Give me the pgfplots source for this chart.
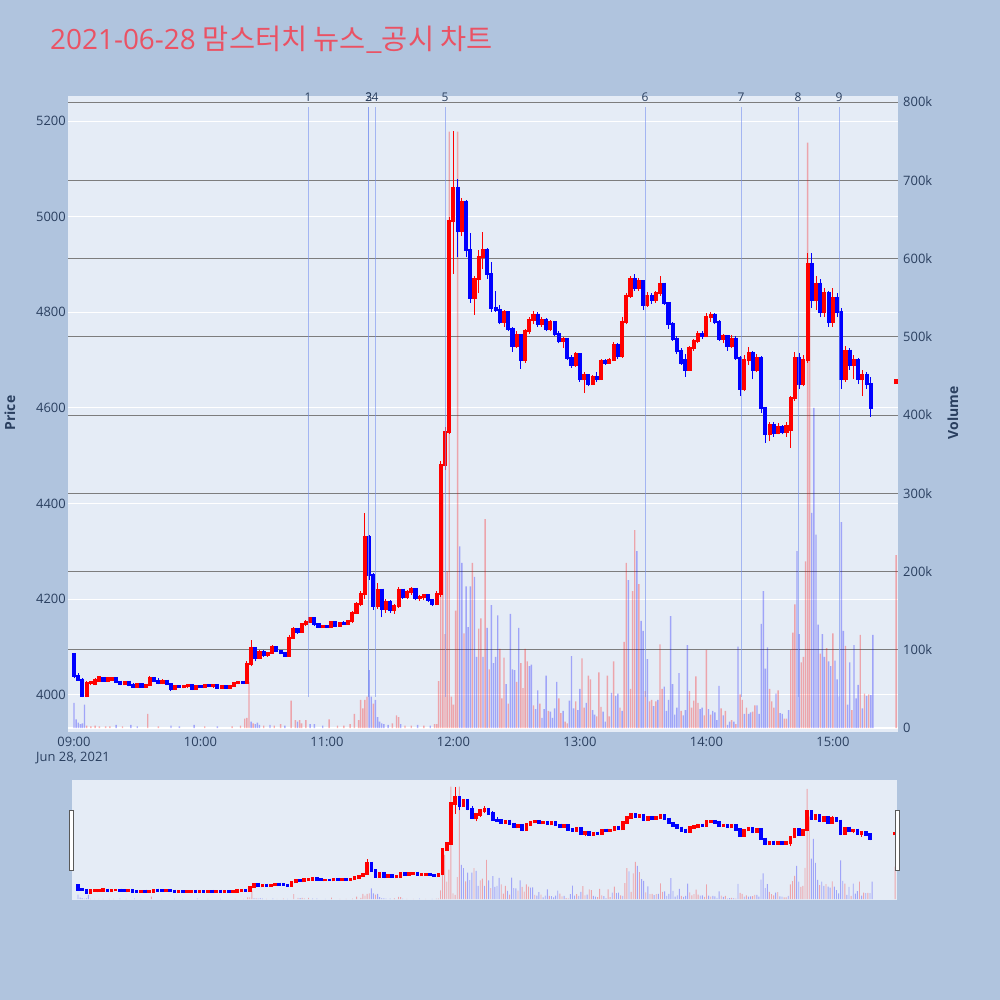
\documentclass[border=0pt]{standalone}
\usepackage{pgfplots}
\pgfplotsset{compat=1.18}
\usepackage{pgfplotstable}
\usepackage{fontspec}
\setmainfont{Open Sans}
\newfontfamily\cjk{Noto Sans CJK KR}
\definecolor{pagebg}{RGB}{176,196,222}
\definecolor{plotbg}{RGB}{229,236,246}
\definecolor{tickc}{RGB}{42,63,95}
\definecolor{titlec}{RGB}{234,82,100}
\definecolor{vgrid}{RGB}{125,125,125}
\definecolor{newsc}{RGB}{120,145,240}

\pgfplotstableread{
t o h l c
0 4085 4088 4035 4040
2 4040 4045 4030 4032
4 4032 4035 3995 3998
6 3998 4030 3995 4025
8 4025 4030 4020 4028
10 4022 4035 4020 4032
12 4030 4040 4028 4038
14 4035 4038 4028 4030
16 4030 4036 4028 4035
18 4032 4038 4030 4035
20 4035 4036 4025 4028
22 4028 4030 4020 4022
24 4022 4030 4020 4028
26 4028 4030 4018 4020
28 4020 4025 4015 4017
30 4017 4025 4015 4022
32 4022 4024 4015 4017
34 4017 4022 4015 4020
36 4020 4040 4018 4035
38 4035 4038 4028 4030
40 4030 4035 4022 4025
42 4025 4033 4022 4030
44 4030 4032 4020 4022
46 4022 4024 4008 4012
48 4012 4020 4010 4018
50 4018 4020 4015 4016
52 4016 4020 4014 4018
54 4018 4022 4015 4020
56 4020 4021 4010 4012
58 4012 4020 4010 4018
60 4018 4020 4015 4016
62 4016 4021 4015 4020
64 4020 4022 4016 4018
66 4018 4021 4015 4020
68 4020 4021 4014 4015
70 4015 4020 4014 4018
72 4018 4020 4014 4015
74 4015 4020 4012 4018
76 4018 4028 4017 4025
78 4025 4030 4022 4028
80 4028 4030 4024 4026
82 4026 4070 4024 4065
84 4065 4115 4060 4098
86 4098 4100 4070 4078
88 4078 4095 4075 4090
90 4090 4094 4080 4084
92 4084 4090 4080 4088
94 4088 4104 4086 4100
96 4100 4102 4090 4092
98 4092 4094 4085 4088
100 4088 4090 4080 4082
102 4082 4125 4080 4120
104 4120 4142 4118 4138
106 4138 4140 4128 4132
108 4132 4150 4130 4148
110 4148 4156 4145 4152
112 4152 4162 4150 4160
114 4160 4161 4145 4148
116 4148 4150 4140 4142
118 4142 4146 4140 4144
120 4144 4146 4140 4142
122 4142 4155 4140 4152
124 4152 4153 4142 4145
126 4145 4152 4143 4150
128 4150 4155 4146 4148
130 4148 4156 4146 4154
132 4154 4175 4150 4172
134 4172 4195 4170 4190
136 4190 4218 4185 4212
138 4212 4380 4200 4330
140 4330 4335 4240 4250
142 4250 4255 4178 4185
144 4185 4235 4180 4220
146 4220 4222 4162 4180
148 4180 4200 4172 4195
150 4195 4198 4172 4178
152 4178 4190 4170 4185
154 4185 4226 4182 4220
156 4220 4222 4200 4205
158 4205 4220 4200 4215
160 4215 4226 4210 4222
162 4222 4223 4198 4202
164 4202 4210 4196 4205
166 4205 4210 4198 4208
168 4208 4209 4195 4198
170 4198 4200 4186 4190
172 4190 4218 4188 4212
174 4212 4490 4205 4480
176 4480 4560 4470 4550
178 4550 5000 4545 4990
180 4990 5180 4880 5060
182 5060 5078 4915 4970
184 4970 5040 4960 5030
186 5030 5035 4915 4930
188 4930 4965 4820 4830
190 4830 4875 4795 4870
192 4870 4930 4840 4915
194 4915 4968 4890 4930
196 4930 4935 4870 4880
198 4880 4905 4800 4810
200 4810 4845 4800 4805
202 4805 4815 4775 4780
204 4780 4805 4770 4800
206 4800 4802 4760 4765
208 4765 4770 4718 4730
210 4730 4760 4725 4752
212 4752 4755 4682 4700
214 4700 4765 4695 4760
216 4760 4790 4755 4785
218 4785 4803 4775 4795
220 4795 4800 4770 4775
222 4775 4790 4770 4785
224 4785 4788 4760 4765
226 4765 4785 4760 4780
228 4780 4782 4750 4755
230 4755 4760 4735 4740
232 4740 4748 4725 4745
234 4745 4746 4700 4705
236 4705 4710 4684 4690
238 4690 4718 4686 4712
240 4712 4715 4655 4660
242 4660 4675 4631 4668
244 4668 4672 4645 4650
246 4650 4670 4648 4665
248 4665 4675 4655 4660
250 4660 4702 4658 4698
252 4698 4702 4690 4695
254 4695 4705 4692 4700
256 4700 4738 4698 4732
258 4732 4735 4703 4708
260 4708 4790 4705 4780
262 4780 4840 4775 4835
264 4835 4875 4830 4870
266 4870 4880 4845 4850
268 4850 4872 4845 4865
270 4865 4868 4805 4815
272 4815 4842 4812 4835
274 4835 4840 4818 4825
276 4825 4845 4820 4840
278 4840 4875 4835 4860
280 4860 4862 4815 4820
282 4820 4822 4765 4775
284 4775 4780 4740 4745
286 4745 4750 4712 4720
288 4720 4725 4690 4695
290 4700 4712 4665 4680
292 4680 4730 4678 4725
294 4725 4745 4720 4740
296 4740 4762 4735 4755
298 4755 4760 4745 4750
300 4750 4798 4748 4790
302 4790 4800 4780 4795
304 4795 4798 4775 4780
306 4780 4785 4740 4745
308 4745 4755 4735 4750
310 4750 4752 4720 4730
312 4730 4752 4725 4745
314 4745 4750 4700 4705
316 4705 4708 4625 4640
318 4640 4710 4635 4700
320 4700 4728 4690 4715
322 4715 4720 4660 4680
324 4680 4712 4675 4705
326 4705 4708 4590 4600
328 4600 4602 4527 4545
330 4545 4570 4530 4565
332 4565 4570 4540 4548
334 4548 4568 4545 4560
336 4560 4565 4545 4550
338 4550 4570 4540 4562
340 4555 4625 4516 4620
342 4620 4718 4615 4705
344 4705 4715 4640 4650
346 4650 4710 4645 4700
348 4700 4925 4695 4900
350 4900 4925 4810 4825
352 4825 4875 4805 4860
354 4860 4870 4790 4800
356 4800 4850 4790 4840
358 4840 4845 4770 4780
360 4780 4850 4770 4830
362 4830 4840 4790 4800
364 4800 4810 4640 4660
366 4660 4730 4655 4720
368 4720 4725 4680 4690
370 4690 4710 4660 4700
372 4700 4705 4650 4660
374 4660 4680 4625 4670
376 4670 4675 4640 4650
378 4650 4665 4582 4600
390 4652 4658 4652 4658
}\candles

\pgfplotstableread{
t v d
0 32 0
1 11 0
2 7 0
3 5 0
4 6 0
5 30 0
6 3 1
8 2 1
10 3 1
12 2 1
15 2 1
17 2 1
20 4 0
23 2 1
27 4 0
30 2 0
35 18 1
40 2 1
46 3 0
50 2 0
57 4 0
62 2 1
68 2 0
75 2 1
79 3 1
81 12 1
82 13 1
83 59 1
84 8 0
85 6 1
86 5 0
87 7 0
88 4 0
90 3 1
93 4 0
95 3 1
98 5 1
100 3 0
103 35 1
105 10 1
106 8 0
107 10 1
108 6 1
110 10 1
112 5 0
114 5 0
118 3 0
121 11 1
125 3 1
128 3 1
131 5 1
133 18 1
135 10 1
136 36 1
137 25 1
138 36 1
139 40 1
140 74 0
141 40 0
142 31 1
143 36 0
144 14 0
145 8 0
146 6 0
147 5 0
149 4 0
151 6 1
153 16 1
154 14 1
155 5 0
157 3 1
160 3 1
163 4 0
166 3 1
169 3 0
171 5 1
172 5 1
173 60 1
174 330 1
175 300 1
176 120 1
177 200 1
178 762 1
179 40 1
180 30 1
181 150 1
182 762 1
183 232 0
184 211 0
185 121 1
186 181 0
187 129 0
188 181 0
189 211 1
190 193 0
191 91 0
192 127 1
193 140 1
194 91 0
195 267 1
196 128 0
197 75 1
198 157 0
199 83 0
200 91 0
201 144 0
202 101 1
203 38 1
204 90 1
205 56 0
206 31 1
207 146 0
208 75 0
209 74 0
210 59 1
211 128 0
212 83 1
213 51 1
214 101 1
215 85 1
216 79 0
217 81 0
218 29 1
219 24 0
220 48 0
221 31 1
222 13 0
223 24 0
224 67 0
225 22 1
226 21 0
227 13 0
228 25 0
229 59 0
230 38 1
231 19 1
232 22 0
233 8 1
234 6 1
235 35 0
236 92 0
237 25 0
238 34 1
239 23 0
240 50 0
241 89 1
242 26 1
243 32 0
244 67 1
245 62 1
246 23 0
247 17 0
248 15 1
249 71 1
250 27 1
251 21 0
252 8 0
253 67 1
254 15 1
255 45 0
256 85 1
257 41 0
258 44 0
259 26 1
260 22 0
261 110 1
262 211 1
263 189 0
264 50 1
265 175 1
266 253 1
267 226 0
268 184 1
269 137 0
270 124 0
271 47 1
272 88 0
273 34 1
274 36 1
275 28 0
276 34 1
277 36 0
278 107 1
279 50 1
280 53 0
281 22 0
282 36 0
283 143 0
284 56 0
285 17 0
286 26 0
287 70 0
288 22 1
289 16 0
290 23 0
291 106 0
292 47 1
293 26 1
294 35 1
295 66 1
296 32 1
297 24 0
298 26 0
299 16 1
300 100 1
301 24 0
302 17 1
303 22 0
304 20 0
305 10 0
306 54 0
307 25 1
308 16 0
309 22 1
310 4 0
311 8 0
312 10 1
313 8 0
314 5 1
315 104 0
316 43 1
317 36 1
318 18 0
319 26 1
320 18 0
321 20 0
322 21 1
323 29 1
324 29 0
325 18 0
326 133 0
327 175 0
328 76 0
329 103 0
330 50 1
331 34 1
332 26 1
333 44 0
334 48 1
335 19 0
336 18 0
337 12 1
338 12 1
339 23 0
340 100 1
341 122 1
342 158 1
343 226 0
344 120 0
345 84 1
346 91 1
347 213 1
348 748 1
349 560 1
350 275 0
351 409 0
352 247 0
353 132 0
354 95 1
355 120 0
356 91 0
357 102 1
358 85 0
359 79 0
360 121 1
361 86 0
362 62 0
363 40 0
364 263 0
365 124 0
366 105 1
367 30 0
368 84 0
369 23 1
370 106 0
371 38 0
372 55 0
373 119 1
374 25 0
375 44 1
376 41 0
377 43 1
378 42 0
379 119 0
390 221 1
}\vols

\tikzset{tfont/.style={font=\fontsize{13}{15}\selectfont, text=tickc}}
\pgfplotsset{
  base/.style={scale only axis, xmin=-2.85, xmax=390.9,
    axis line style={draw=none}, tick style={draw=none}},
  mainpos/.style={at={(68bp,268bp)}, anchor=south west, width=830bp, height=636bp},
  slidepos/.style={at={(72bp,100bp)}, anchor=south west, width=825bp, height=120bp},
  upc/.style={restrict expr to domain={\thisrow{c}-\thisrow{o}}{0:5000}},
  dnc/.style={restrict expr to domain={\thisrow{c}-\thisrow{o}}{-5000:-0.001}},
  upv/.style={restrict expr to domain={\thisrow{d}}{0.5:1.5}},
  dnv/.style={restrict expr to domain={\thisrow{d}}{-0.5:0.5}},
}

\begin{document}
\begin{tikzpicture}
\useasboundingbox (0,0) rectangle (1000bp,1000bp);
\fill[pagebg] (0,0) rectangle (1000bp,1000bp);

% ---------- main price axis: background, white grid, labels
\begin{axis}[base, mainpos, ymin=3922.6, ymax=5252.3,
  axis background/.style={fill=plotbg},
  ytick={4000,4200,4400,4600,4800,5000,5200},
  yticklabels={4000,4200,4400,4600,4800,5000,5200},
  ymajorgrids, grid style={white, line width=1bp},
  xtick={0,60,120,180,240,300,360},
  xticklabels={09:00,10:00,11:00,12:00,13:00,14:00,15:00},
  ticklabel style={tfont},
  yticklabel style={anchor=east, inner sep=0pt, xshift=-2bp},
  xticklabel style={anchor=north, inner sep=0pt, yshift=-5bp},
]
\addplot[draw=none] coordinates {(0,4000)};
\end{axis}

% ---------- volume axis
\begin{axis}[base, mainpos, ymin=-5.1, ymax=807.7,
  xtick=\empty,
  ytick={100,200,300,400,500,600,700,800},
  yticklabels={100k,200k,300k,400k,500k,600k,700k,800k},
  extra y ticks={0}, extra y tick labels={0},
  extra y tick style={grid style={white, line width=1.6bp}},
  yticklabel pos=right,
  ymajorgrids, grid style={vgrid, line width=0.8bp},
  ticklabel style={tfont},
  yticklabel style={anchor=west, inner sep=0pt, xshift=5bp},
]
\addplot[ybar, bar width=1.4bp, bar shift=0pt, draw=none, fill=red, fill opacity=0.3, upv] table[x=t, y=v]{\vols};
\addplot[ybar, bar width=1.4bp, bar shift=0pt, draw=none, fill=blue, fill opacity=0.3, dnv] table[x=t, y=v]{\vols};
\end{axis}

% ---------- candles + news lines
\begin{axis}[base, mainpos, ymin=3922.6, ymax=5252.3, xtick=\empty, ytick=\empty, clip mode=individual]
\addplot[red, line width=1bp, quiver={u=0, v={\thisrow{h}-\thisrow{l}}}, upc] table[x=t, y=l]{\candles};
\addplot[red, line width=4.1bp, shorten <=-1bp, shorten >=-1bp, quiver={u=0, v={\thisrow{c}-\thisrow{o}}}, upc] table[x=t, y=o]{\candles};
\addplot[blue, line width=1bp, quiver={u=0, v={\thisrow{h}-\thisrow{l}}}, dnc] table[x=t, y=l]{\candles};
\addplot[blue, line width=4.1bp, shorten <=-1bp, shorten >=-1bp, quiver={u=0, v={\thisrow{c}-\thisrow{o}}}, dnc] table[x=t, y=o]{\candles};
\foreach \tt in {111.0,139.9,139.9,142.8,176.0,270.9,316.4,343.5,362.9}{
  \edef\temp{\noexpand\addplot[newsc, opacity=0.6, line width=0.9bp] coordinates {(\tt,3996) (\tt,5229)};}
  \temp
}
\foreach \tt/\lab in {111.0/1,139.9/2,139.9/3,142.8/4,176.0/5,270.9/6,316.4/7,343.5/8,362.9/9}{
  \edef\temp{\noexpand\node[anchor=south, inner sep=0pt, font=\noexpand\fontsize{12}{14}\noexpand\selectfont, text=tickc] at (axis cs:\tt,5229) [yshift=5bp] {\lab};}
  \temp
}
\end{axis}

% ---------- range slider
\begin{axis}[base, slidepos, ymin=-5.1, ymax=807.7, xtick=\empty, ytick=\empty,
  axis background/.style={fill=plotbg}]
\addplot[ybar, bar width=0.9bp, bar shift=0pt, draw=none, fill=red, fill opacity=0.3, upv] table[x=t, y=v]{\vols};
\addplot[ybar, bar width=0.9bp, bar shift=0pt, draw=none, fill=blue, fill opacity=0.3, dnv] table[x=t, y=v]{\vols};
\end{axis}
\begin{axis}[base, slidepos, ymin=3922.6, ymax=5252.3, xtick=\empty, ytick=\empty]
\addplot[red, line width=0.7bp, quiver={u=0, v={\thisrow{h}-\thisrow{l}}}, upc] table[x=t, y=l]{\candles};
\addplot[red, line width=3.6bp, shorten <=-1.3bp, shorten >=-1.3bp, quiver={u=0, v={\thisrow{c}-\thisrow{o}}}, upc] table[x=t, y=o]{\candles};
\addplot[blue, line width=0.7bp, quiver={u=0, v={\thisrow{h}-\thisrow{l}}}, dnc] table[x=t, y=l]{\candles};
\addplot[blue, line width=3.6bp, shorten <=-1.3bp, shorten >=-1.3bp, quiver={u=0, v={\thisrow{c}-\thisrow{o}}}, dnc] table[x=t, y=o]{\candles};
\end{axis}

% slider handles
\draw[fill=white, draw=gray!70!black, line width=0.8bp] (69bp,130bp) rectangle (73bp,190bp);
\draw[fill=white, draw=gray!70!black, line width=0.8bp] (895.5bp,130bp) rectangle (899.5bp,190bp);

% texts
\node[anchor=north, inner sep=0pt, tfont] at (73bp,248bp) {Jun 28, 2021};
\node[rotate=90, inner sep=0pt, font=\bfseries\fontsize{14}{16}\selectfont, text=tickc] at (10bp,587bp) {Price};
\node[rotate=90, inner sep=0pt, font=\bfseries\fontsize{14}{16}\selectfont, text=tickc] at (953bp,587bp) {Volume};
\node[anchor=west, inner sep=0pt, text=titlec] at (50bp,960bp) {\fontsize{28}{32}\selectfont 2021-06-28 {\cjk\fontsize{28.5}{32}\selectfont 맘스터치 뉴스\_공시 차트}};
\end{tikzpicture}
\end{document}
